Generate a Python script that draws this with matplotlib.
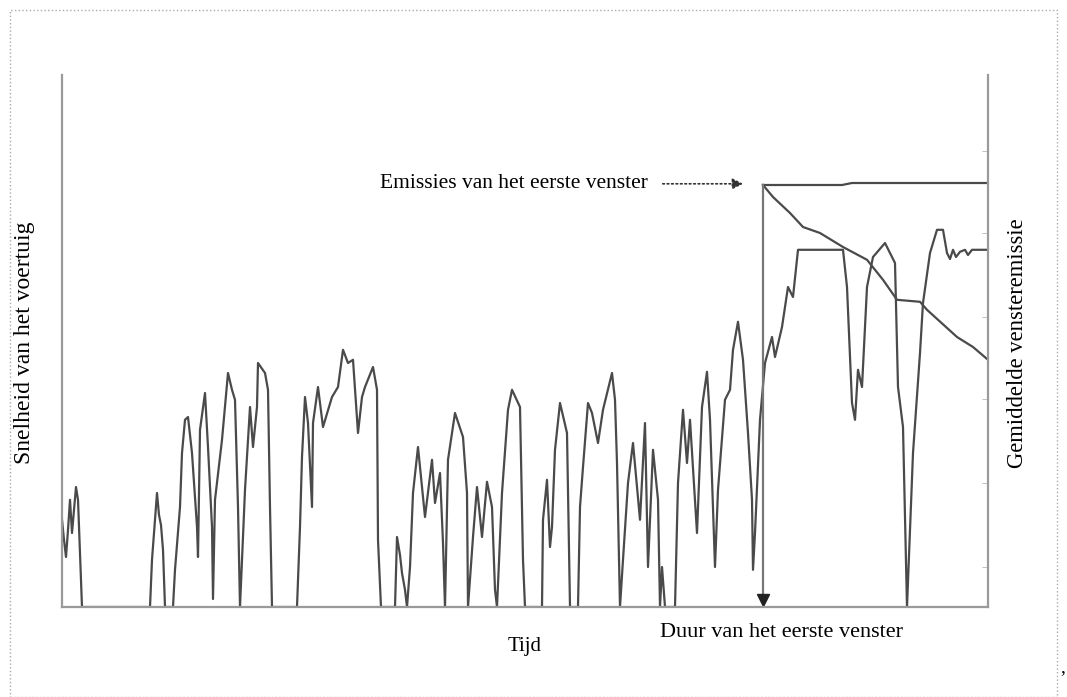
import matplotlib.pyplot as plt
from matplotlib.patches import Rectangle

plt.rcParams['font.family'] = ['Liberation Serif', 'DejaVu Serif']

# snelheid van het voertuig (tijd in s, snelheid in km/h)
tijd = [0, 2, 4, 6, 8, 10, 12, 14, 16, 18, 20, 88, 90, 93, 95, 97, 99, 101, 103,
        111, 113, 118, 120, 123, 126, 130, 135, 136, 138, 143, 146, 150, 151, 153,
        160, 163, 166, 170, 173, 176, 178, 183, 186, 188, 191, 195, 196, 203, 206,
        208, 210, 235, 238, 240, 243, 246, 250, 251, 256, 261, 270, 276, 281, 286,
        291, 296, 300, 303, 311, 315, 316, 319, 333, 335, 338, 340, 343, 345, 348,
        351, 356, 363, 370, 373, 378, 381, 383, 386, 393, 401, 405, 406, 411, 415,
        420, 425, 430, 433, 435, 440, 446, 450, 458, 461, 463, 480, 481, 485, 488,
        490, 493, 498, 505, 508, 516, 518, 521, 526, 530, 536, 541, 550, 553, 555,
        558, 561, 566, 571, 576, 578, 583, 586, 591, 596, 598, 600, 603, 613, 616,
        621, 625, 628, 635, 640, 645, 648, 653, 656, 663, 668, 671, 676, 681, 686,
        690, 691, 693, 698, 703, 710, 713, 720, 726, 731, 736, 781, 785, 790, 793,
        796, 800, 805, 811, 823, 833, 836, 841, 845, 851, 858, 861, 868, 875, 881,
        885, 888, 891, 894, 898, 903, 906, 910, 926]
snelheid = [21.8, 16.8, 12.5, 19.3, 26.8, 18.5, 24.3, 30, 26.8, 13.5, 0, 0, 11.8, 21.8,
            28.5, 23, 20.5, 14.3, 0, 0, 9.3, 25, 38.5, 46.8, 47.5, 38.5, 20, 12.5,
            44.3, 53.5, 40, 20, 2, 26.8, 41.8, 50, 58.5, 54.3, 51.8, 25, 0, 29.3,
            41.8, 50, 40, 50, 61, 58.5, 54.3, 25, 0, 0, 20, 37.5, 52.5, 46, 25, 46,
            55, 45, 52.5, 55, 64.3, 61, 61.8, 43.5, 52.5, 55, 60, 54.3, 16.8, 0, 0,
            17.5, 13, 8.5, 4.3, 0, 10, 28.5, 40, 22.5, 36.8, 26, 33.5, 16, 0, 36.8,
            48.5, 42.5, 28.5, 0, 17.5, 30, 17.5, 31.3, 25, 4.3, 0, 28.5, 49.3,
            54.3, 50, 11.8, 0, 0, 21.8, 31.8, 15, 20, 39.3, 51, 43.5, 0, 0,
            25, 35, 51, 48.5, 41, 49.3, 58.5, 51.8, 36, 0, 11.8, 31, 41, 27.5, 21.8,
            46, 10, 39.3, 26.8, 0, 10, 0, 0, 31, 49.3, 36, 46.8, 18.5, 50, 58.8,
            46.8, 10, 29.3, 51.8, 54.3, 64.3, 71.3, 61.8, 43.5, 26.8, 9.3, 18.5,
            46.8, 61, 67.5, 62.5, 70, 80, 77.5, 89.3, 89.3, 80, 51, 46.8, 59.3, 55,
            80, 87.5, 91, 86, 55, 45, 0, 38.5, 63.5, 76, 88.5, 94.3, 94.3, 88.5,
            87, 89.3, 87.5, 88.8, 89.3, 88, 89.3, 89.3]

# gemiddelde vensteremissie
venster_start = 701
venster_tijd = [701, 711, 728, 741, 758, 781, 805, 821, 835, 858, 865, 895, 911, 926]
venster_gem = [105.5, 102.5, 98.5, 95, 93.5, 90, 86.8, 81.8, 76.8, 76.3, 74.3, 67.5,
               65, 61.8]
eerste_tijd = [701, 780, 790, 926]
eerste_emissie = [105.5, 105.5, 106, 106]

fig = plt.figure(figsize=(10.67, 6.97), dpi=100)
ax = fig.add_axes([62 / 1067, 90 / 697, 926 / 1067, 532 / 697])

lijn = '#4a4a4a'
ax.plot(tijd, snelheid, color=lijn, lw=1.6, solid_joinstyle='round')
ax.plot(venster_tijd, venster_gem, color=lijn, lw=1.6)
ax.plot(eerste_tijd, eerste_emissie, color=lijn, lw=1.6)
ax.plot([venster_start, venster_start], [eerste_emissie[0], 2.5], color='#777777', lw=1.6)
ax.plot([venster_start], [1.8], marker='v', ms=9, color='#222222')

ax.set_xlim(0, 926)
ax.set_ylim(0, 133)
ax.spines['top'].set_visible(False)
for s in ['left', 'right', 'bottom']:
    ax.spines[s].set_color('#9a9a9a')
    ax.spines[s].set_linewidth(1.6)
ax.set_xticks([])
ax.set_yticks([])
ax.tick_params(axis='y', which='minor', right=True, left=False, direction='in',
               length=4, color='#b5b5b5')
ax.set_yticks([10, 31, 52, 72.5, 93.5, 114], minor=True)
ax.set_yticklabels([], minor=True)

ax.text(-37, 66, 'Snelheid van het voertuig', rotation=90, ha='center', va='center',
        fontsize=17)
ax.text(955, 66, 'Gemiddelde vensteremissie', rotation=90, ha='center', va='center',
        fontsize=16.3)
ax.text(463, -10, 'Tijd', ha='center', va='center', fontsize=15)
ax.text(598, -6.3, 'Duur van het eerste venster', ha='left', va='center', fontsize=16)
ax.text(318, 106, 'Emissies van het eerste venster', ha='left', va='center', fontsize=15.5)
ax.annotate('', xy=(684, 105.8), xytext=(598, 105.8),
            arrowprops=dict(arrowstyle='-|>', color='#333333', lw=1.2, ls=':',
                            mutation_scale=16))
for a in ax.texts:
    a.set_clip_on(False)

fig.add_artist(Rectangle((10 / 1067, 0), 1047 / 1067, 687 / 697, transform=fig.transFigure,
                         fill=False, ls=':', lw=1, color='#aaaaaa'))
fig.text(1060 / 1067, 1 - 668 / 697, ',', fontsize=14, ha='left', va='center')

fig.savefig('out.png', dpi=100)
